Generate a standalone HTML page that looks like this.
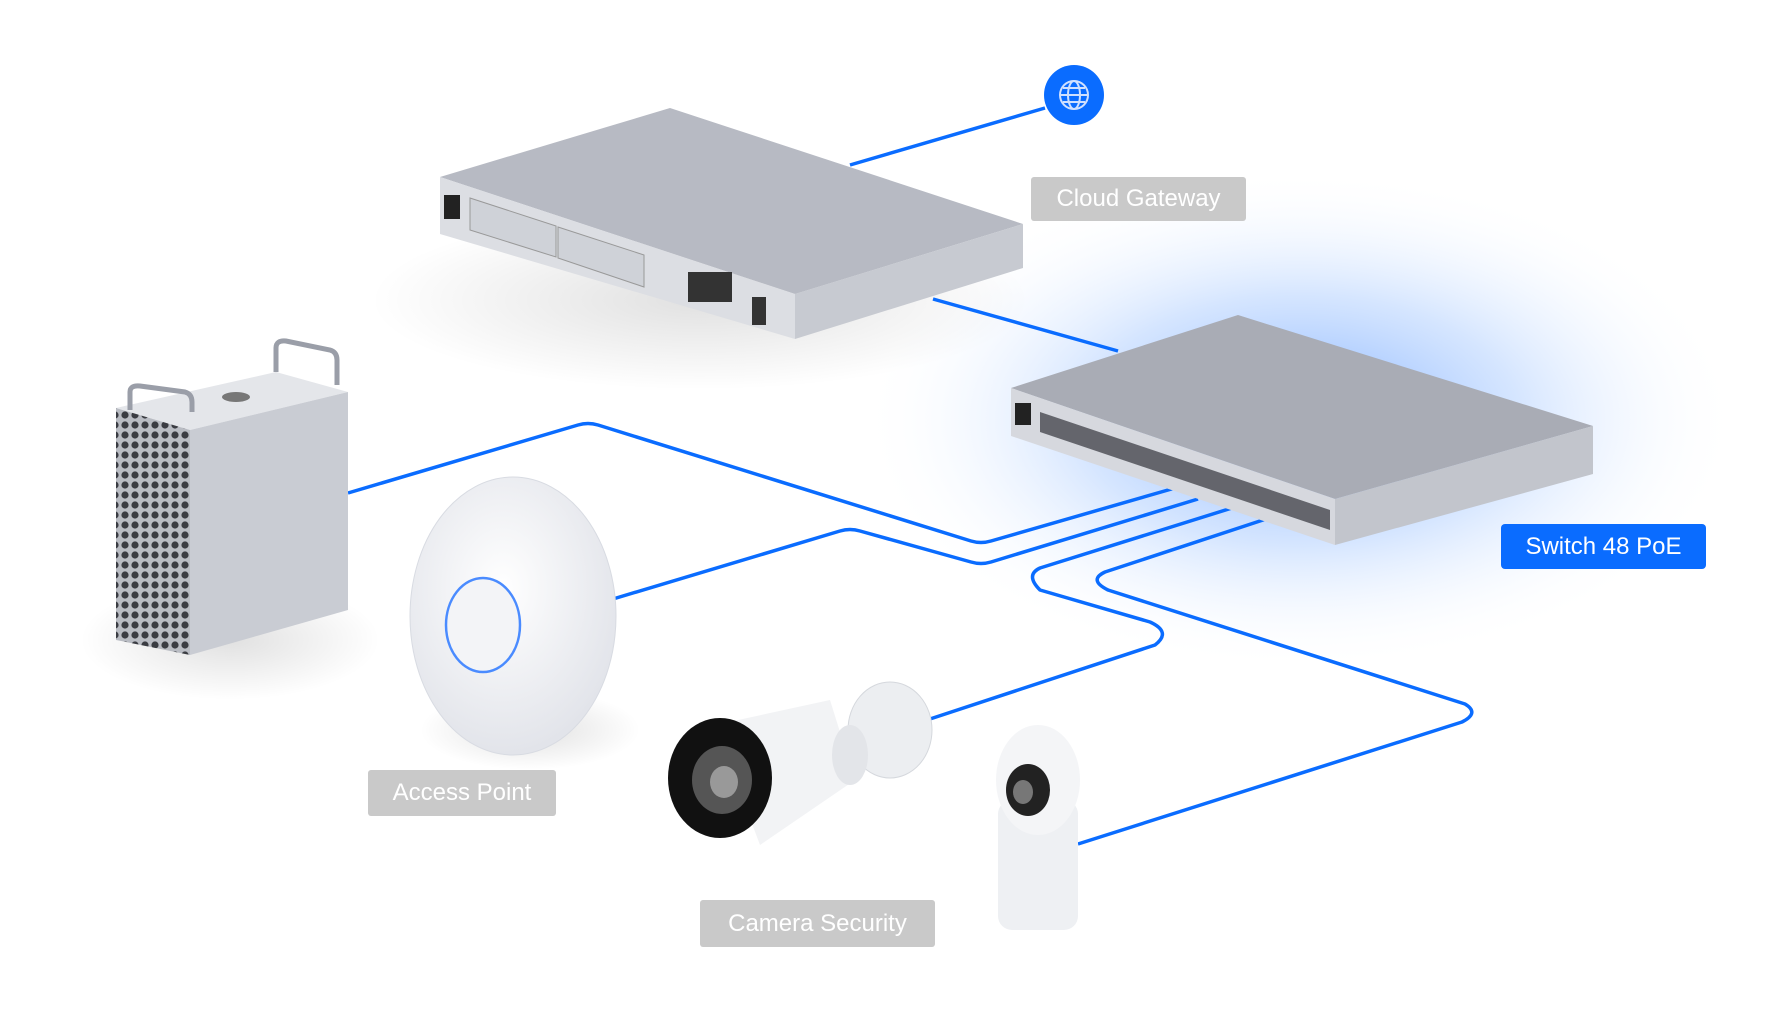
<!DOCTYPE html>
<html><head><meta charset="utf-8"><style>
html,body{margin:0;padding:0;background:#fff;width:1780px;height:1020px;overflow:hidden;font-family:"Liberation Sans",sans-serif}
.lbl{position:absolute;background:#c9c9c9;color:#fff;font-size:24px;display:flex;align-items:center;justify-content:center;border-radius:3px}
</style></head><body>
<svg width="1780" height="1020" style="position:absolute;left:0;top:0">
<defs>
<radialGradient id="glow" cx="50%" cy="50%" r="50%">
<stop offset="0" stop-color="#2f7cff" stop-opacity="0.6"/>
<stop offset="0.5" stop-color="#6aa4ff" stop-opacity="0.28"/>
<stop offset="1" stop-color="#ffffff" stop-opacity="0"/>
</radialGradient>
<radialGradient id="shadow" cx="50%" cy="50%" r="50%">
<stop offset="0" stop-color="#000" stop-opacity="0.12"/>
<stop offset="1" stop-color="#000" stop-opacity="0"/>
</radialGradient>
<radialGradient id="disc" cx="45%" cy="40%" r="60%">
<stop offset="0" stop-color="#ffffff"/>
<stop offset="1" stop-color="#e2e4ea"/>
</radialGradient>
<pattern id="mesh" width="10" height="10" patternUnits="userSpaceOnUse">
<rect width="10" height="10" fill="#b9bcc3"/>
<circle cx="5" cy="5" r="3.6" fill="#3a3c42"/>
</pattern>
</defs>
<ellipse cx="1300" cy="420" rx="440" ry="250" fill="url(#glow)"/>
<ellipse cx="700" cy="300" rx="330" ry="90" fill="url(#shadow)"/>
<ellipse cx="230" cy="640" rx="150" ry="60" fill="url(#shadow)"/>
<ellipse cx="530" cy="730" rx="110" ry="40" fill="url(#shadow)"/>
<g fill="none" stroke="#0a6cff" stroke-width="3.5" stroke-linejoin="round">
<path d="M1045 108 L850 165"/>
<path d="M933 299 L1118 351"/>
<path d="M348 493 L578 425 Q588 422 598 425 L971 541 Q981 544 991 541 L1175 488"/>
<path d="M613 599 L840 531 Q850 528 860 531 L971 562 Q981 565 991 562 L1198 499"/>
<path d="M1232 508 L1040 568 Q1025 575 1040 590 L1150 622 Q1172 632 1155 645 L930 719"/>
<path d="M1078 844 L1462 722 Q1480 713 1465 704 L1108 590 Q1088 580 1105 572 L1266 519"/>
</g>
<!-- gateway -->
<polygon points="440,177 670,108 1023,224 795,294" fill="#b7bac3"/>
<polygon points="440,177 795,294 795,339 440,234" fill="#dcdee3"/>
<polygon points="795,294 1023,224 1023,268 795,339" fill="#c7cad1"/>
<rect x="444" y="195" width="16" height="24" fill="#222"/>
<polygon points="470,198 556,226 556,257 470,230" fill="#cfd2d8" stroke="#999" stroke-width="1"/>
<polygon points="558,227 644,255 644,287 558,258" fill="#cfd2d8" stroke="#999" stroke-width="1"/>
<g fill="#333"><rect x="688" y="272" width="44" height="30"/><rect x="752" y="297" width="14" height="28"/></g>
<circle cx="1074" cy="95" r="30" fill="#0a6cff"/>
<g fill="none" stroke="#cfe0ff" stroke-width="2"><circle cx="1074" cy="95" r="14"/><ellipse cx="1074" cy="95" rx="6" ry="14"/><line x1="1060" y1="95" x2="1088" y2="95"/><line x1="1063" y1="88" x2="1085" y2="88"/><line x1="1063" y1="102" x2="1085" y2="102"/></g>
<!-- switch -->
<polygon points="1011,388 1238,315 1593,426 1335,499" fill="#a9acb5"/>
<polygon points="1011,388 1335,499 1335,545 1011,436" fill="#d6d8de"/>
<polygon points="1335,499 1593,426 1593,474 1335,545" fill="#c2c5cc"/>
<rect x="1015" y="403" width="16" height="22" fill="#222"/>
<polygon points="1040,412 1330,510 1330,530 1040,432" fill="#3d3f45" opacity="0.75"/>
<!-- mac pro -->
<polygon points="116,408 190,430 348,392 276,372" fill="#e4e6ea"/>
<polygon points="190,430 348,392 348,610 190,655" fill="#c9ccd3"/>
<polygon points="116,408 190,430 190,655 116,640" fill="url(#mesh)"/>
<ellipse cx="236" cy="397" rx="14" ry="5" fill="#777"/>
<path d="M130 410 V392 Q130 385 140 386 L185 392 Q192 394 192 402 V412" fill="none" stroke="#9a9ea8" stroke-width="5"/>
<path d="M276 372 V348 Q276 340 286 341 L330 350 Q337 352 337 360 V385" fill="none" stroke="#9a9ea8" stroke-width="5"/>
<!-- AP -->
<ellipse cx="513" cy="616" rx="103" ry="139" fill="url(#disc)" stroke="#d8dbe2"/>
<ellipse cx="483" cy="625" rx="37" ry="47" fill="#f3f4f7" stroke="#4a8bff" stroke-width="2.5"/>
<!-- bullet camera -->
<polygon points="715,725 830,700 855,780 760,845" fill="#f2f3f5"/>
<ellipse cx="890" cy="730" rx="42" ry="48" fill="#eceef1" stroke="#d5d8dd"/>
<ellipse cx="850" cy="755" rx="18" ry="30" fill="#e3e5e9"/>
<ellipse cx="720" cy="778" rx="52" ry="60" fill="#111"/>
<ellipse cx="722" cy="780" rx="30" ry="34" fill="#555"/>
<ellipse cx="724" cy="782" rx="14" ry="16" fill="#999"/>
<!-- dome small cam -->
<rect x="998" y="800" width="80" height="130" rx="14" fill="#eef0f3"/>
<ellipse cx="1038" cy="780" rx="42" ry="55" fill="#f4f5f7"/>
<ellipse cx="1028" cy="790" rx="22" ry="26" fill="#222"/>
<ellipse cx="1023" cy="792" rx="10" ry="12" fill="#777"/>
</svg>
<div class="lbl" style="left:1031px;top:177px;width:215px;height:44px">Cloud Gateway</div>
<div class="lbl" style="left:1501px;top:524px;width:205px;height:45px;background:#0a6cff;border-radius:4px">Switch 48 PoE</div>
<div class="lbl" style="left:368px;top:770px;width:188px;height:46px">Access Point</div>
<div class="lbl" style="left:700px;top:900px;width:235px;height:47px">Camera Security</div>
</body></html>
